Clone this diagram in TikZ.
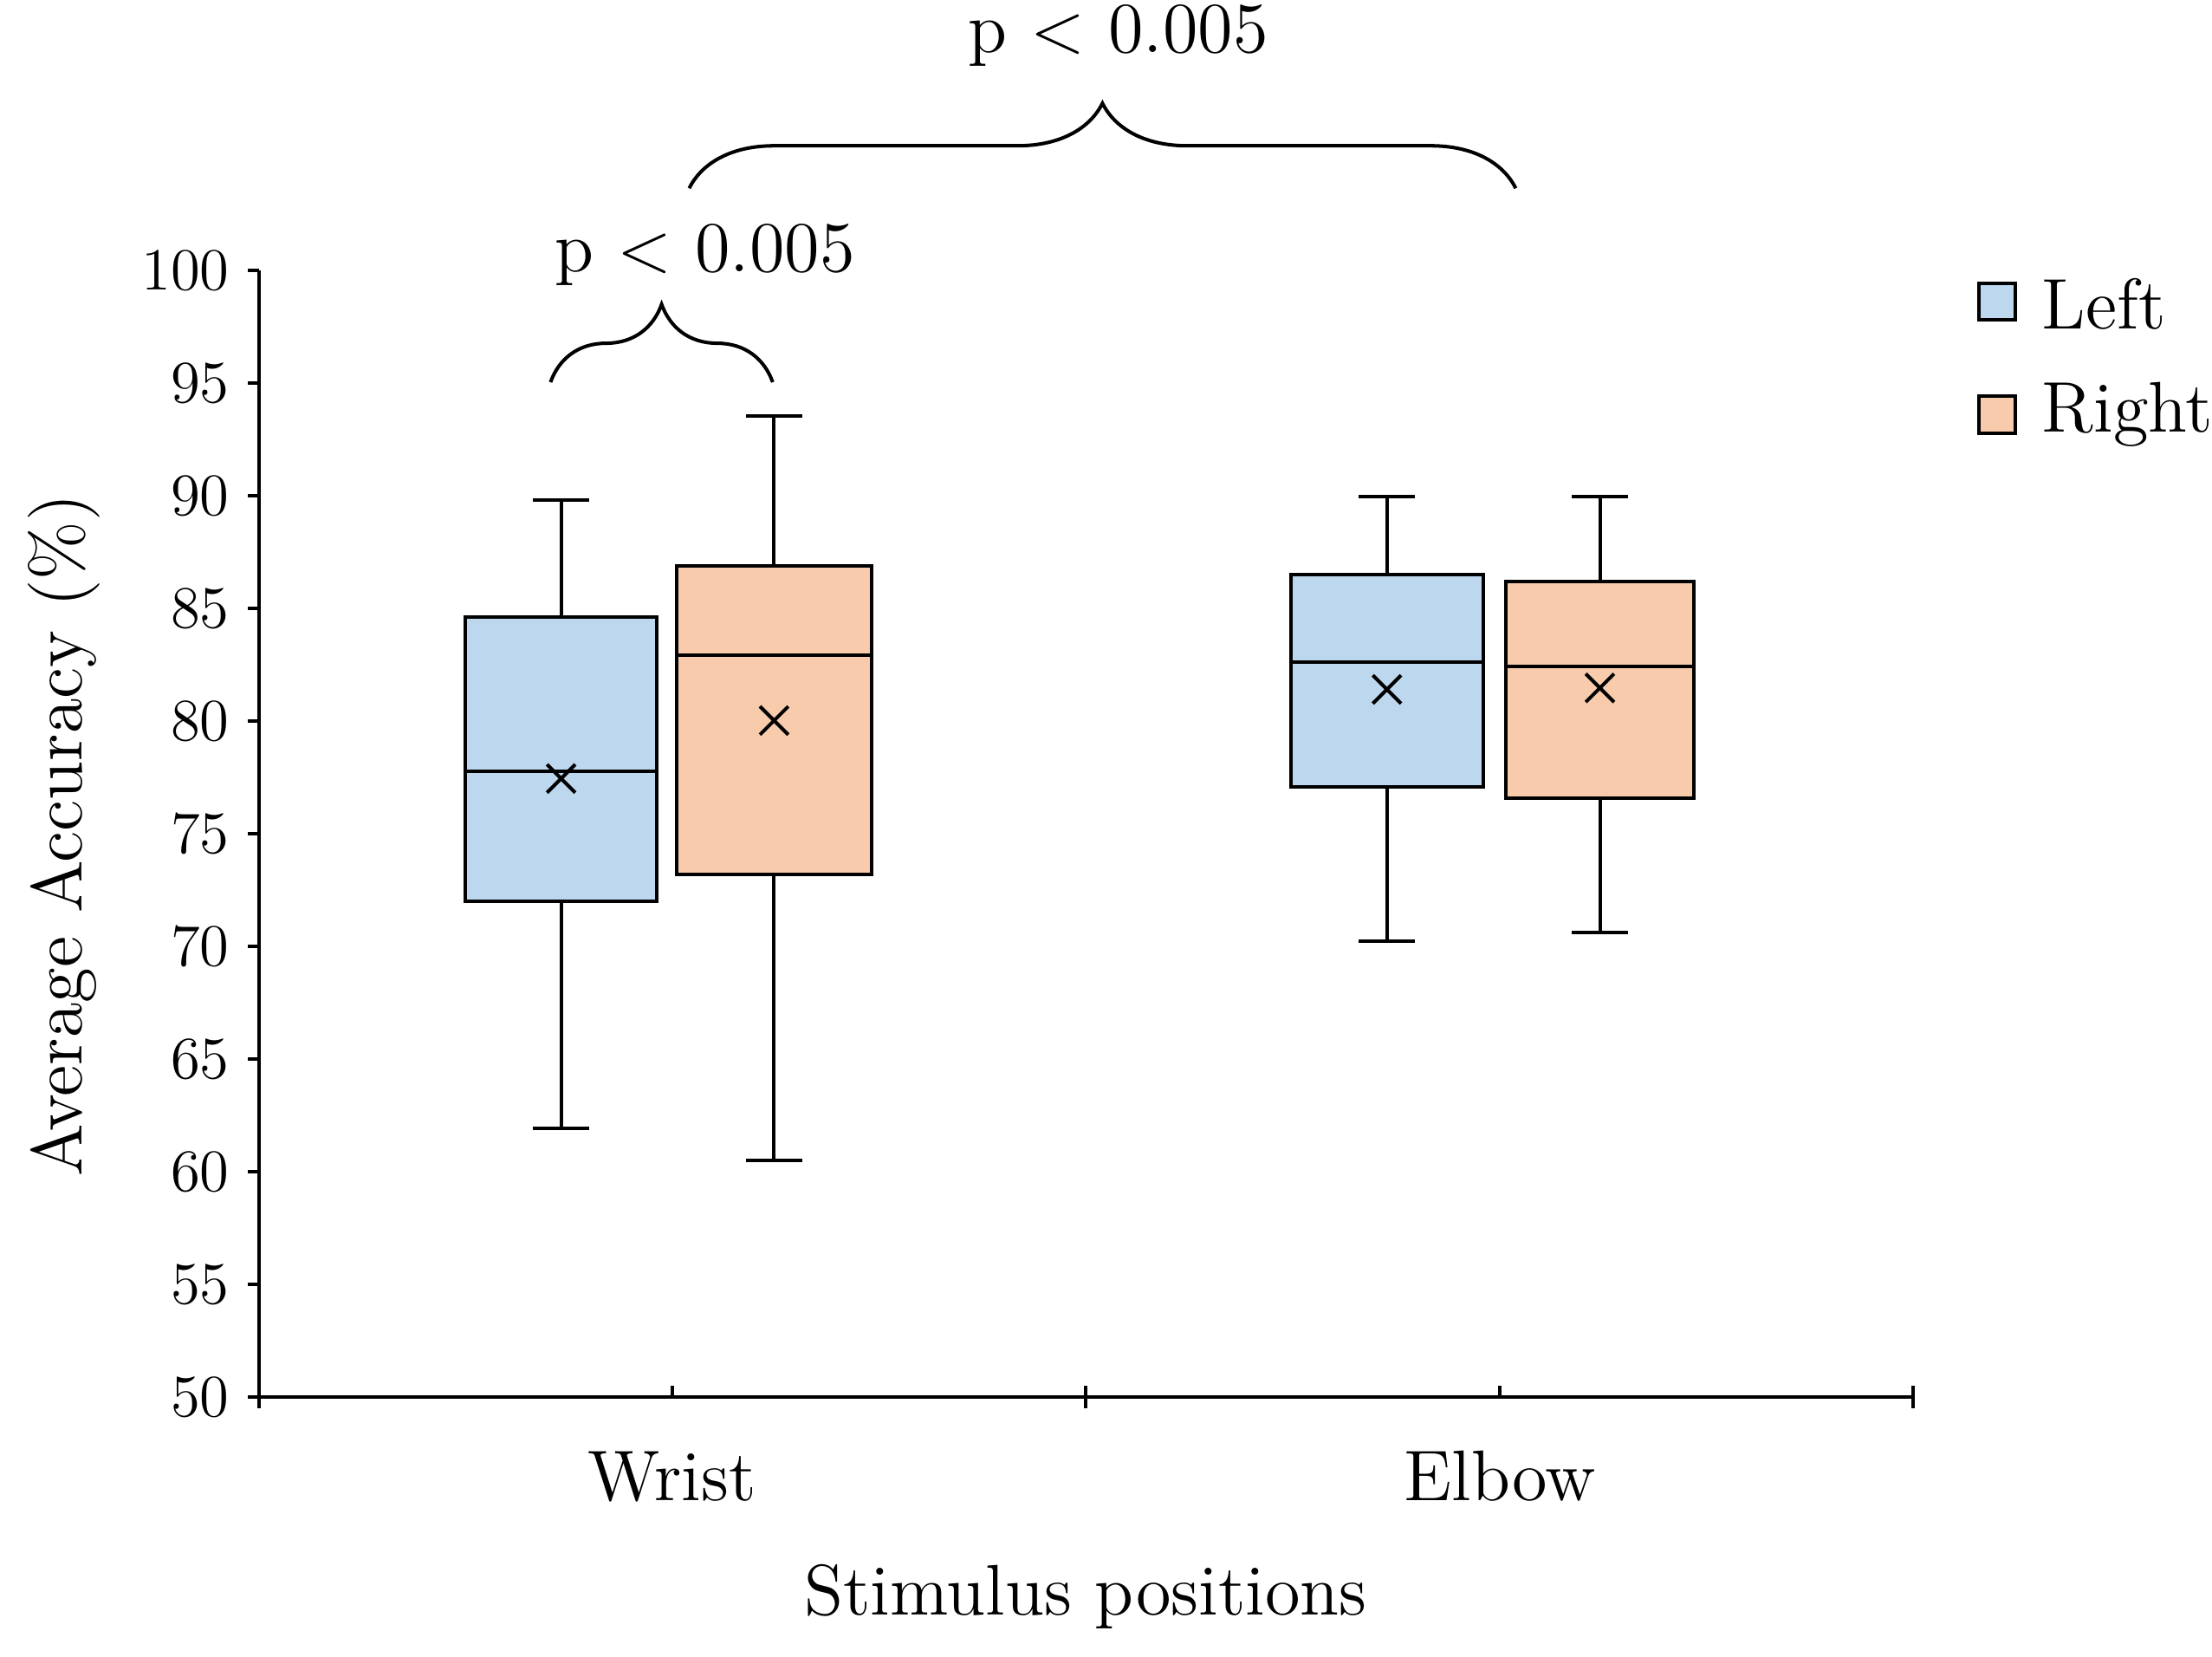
\documentclass[tikz,border=0pt]{standalone}
\usetikzlibrary{decorations.pathreplacing}
\definecolor{leftc}{HTML}{BDD7EE}
\definecolor{rightc}{HTML}{F8CBAD}
\begin{document}
\begin{tikzpicture}[x=0.01cm,y=-0.01cm,line width=0.7pt,
   box/.style={draw=black},
   tick/.style={font=\large,anchor=east},
   lbl/.style={font=\Large},
   pbrace/.style={decorate,decoration={brace,amplitude=#1}}]
\useasboundingbox (0,0) rectangle (1563,1170);
% axes
\draw (183,191) -- (183,987) -- (1352,987);
\foreach \v [count=\i from 0] in {50,55,...,100}
  \draw (183,{987-\i*79.6}) -- (175,{987-\i*79.6}) node[tick] {\v};
\foreach \x in {183,767,1352} \draw (\x,979) -- (\x,995);
\foreach \x in {475,1060} \draw (\x,979) -- (\x,987);
\node[lbl] (wrist) at (475,1043) {Wrist};
\node[lbl] (elbow) at (1060,1043) {Elbow};
\node[lbl] (xlab) at (767,1128) {Stimulus positions};
\node[lbl,rotate=90] (ylab) at (45,590) {Average Accuracy (\%)};
% boxes: x-left, x-right, whisker-low, q1, median, q3, whisker-high, mean, colour
\foreach \xa/\xb/\wl/\qa/\md/\qb/\wh/\mn/\c in {
   329/464/797/637/545/436/353/550/leftc,
   478/616/820/618/463/400/294/509/rightc,
   912/1048/665/556/468/406/351/487/leftc,
   1064/1197/659/564/471/411/351/486/rightc}{
  \pgfmathsetmacro\xm{(\xa+\xb)/2}
  \draw (\xm,\wl) -- (\xm,\wh);
  \draw (\xm-20,\wl) -- (\xm+20,\wl);
  \draw (\xm-20,\wh) -- (\xm+20,\wh);
  \draw[box,fill=\c] (\xa,\qa) rectangle (\xb,\qb);
  \draw (\xa,\md) -- (\xb,\md);
  \draw (\xm-10,\mn-10) -- (\xm+10,\mn+10) (\xm-10,\mn+10) -- (\xm+10,\mn-10);
}
% significance
\draw[pbrace=0.55cm] (389,270) -- (546,270);
\node[lbl] (p1) at (498,180) {p $<$ 0.005};
\draw[pbrace=0.6cm] (487,133) -- (1071,133);
\node[lbl] (p2) at (790,25) {p $<$ 0.005};
% legend
\draw[box,fill=leftc] (1398,200) rectangle (1424,226);
\node[lbl,anchor=west] (legl) at (1430,215) {Left};
\draw[box,fill=rightc] (1398,280) rectangle (1424,306);
\node[lbl,anchor=west] (legr) at (1430,293) {Right};
\end{tikzpicture}
\end{document}
